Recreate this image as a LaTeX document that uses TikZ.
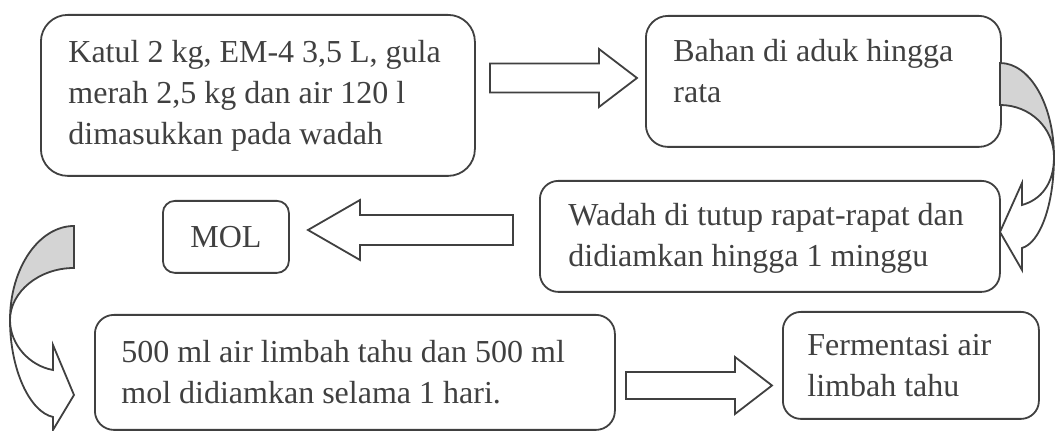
\documentclass[tikz,border=0pt]{standalone}
\usepackage{fontspec}
\setmainfont{Liberation Serif}
\definecolor{ink}{HTML}{404040}
\definecolor{shade}{HTML}{D4D4D4}
\begin{document}
\begin{tikzpicture}[x=0.5pt, y=-0.5pt,
  box/.style={draw=ink, line width=0.9pt, rounded corners=#1, inner sep=0pt, anchor=north west},
  txt/.style={anchor=base west, inner sep=0pt, align=left, text=ink, font=\fontsize{16}{20.5}\selectfont},
  blockarrow/.style={draw=ink, line width=0.9pt, fill=white, line join=miter},
  curvearrow/.style={draw=ink, line width=0.9pt, line join=miter}]
  \useasboundingbox (0,0) rectangle (1057,431);

  % boxes
  \node[box=13.4pt, minimum width=217pt, minimum height=80.5pt] (katul) at (40,14) {};
  \node[box=11pt, minimum width=177.5pt, minimum height=65.5pt] (aduk) at (645,15) {};
  \node[box=9.2pt, minimum width=230pt, minimum height=55.5pt] (tutup) at (539,180) {};
  \node[box=6pt, minimum width=63pt, minimum height=36pt, text=ink, font=\fontsize{16}{20.5}\selectfont] (mol) at (162,200) {MOL};
  \node[box=9.5pt, minimum width=260pt, minimum height=57.5pt] (limbah) at (94,314) {};
  \node[box=9pt, minimum width=128pt, minimum height=53.5pt] (ferm) at (782,311) {};

  % texts, anchored on the baseline of the last line
  \node[txt] (katul-t) at (68,145) {Katul 2 kg, EM-4 3,5 L, gula\\merah 2,5 kg dan air 120 l\\dimasukkan pada wadah};
  \node[txt] (aduk-t) at (673,103) {Bahan di aduk hingga\\rata};
  \node[txt] (tutup-t) at (568,267) {Wadah di tutup rapat-rapat dan\\didiamkan hingga 1 minggu};
  \node[txt] (limbah-t) at (121,404) {500 ml air limbah tahu dan 500 ml\\mol didiamkan selama 1 hari.};
  \node[txt] (ferm-t) at (807,397) {Fermentasi air\\limbah tahu};

  % block arrows
  \draw[blockarrow] (490,63.5) -- (599,63.5) -- (599,49) -- (637,78) -- (599,107) -- (599,92.5) -- (490,92.5) -- cycle;
  \draw[blockarrow] (513,215) -- (360,215) -- (360,200) -- (308,230) -- (360,260) -- (360,245) -- (513,245) -- cycle;
  \draw[blockarrow] (626,372) -- (735,372) -- (735,357) -- (772,385.5) -- (735,414) -- (735,399) -- (626,399) -- cycle;

  % curved arrows
  \draw[curvearrow, fill=shade] (1000,63) .. controls (1030,63) and (1054,105) .. (1054,157)
    .. controls (1054,128) and (1030,105) .. (1000,105) -- cycle;
  \draw[curvearrow, fill=white] (1054,157) .. controls (1054,205) and (1040,243) .. (1022,248)
    -- (1022,270) -- (1000,232) -- (1022,183) -- (1022,205)
    .. controls (1040,200) and (1054,185) .. (1054,157) -- cycle;
  \draw[curvearrow, fill=shade] (74,226) .. controls (39,226) and (10,268) .. (10,320)
    .. controls (10,292) and (39,268) .. (74,268) -- cycle;
  \draw[curvearrow, fill=white] (10,320) .. controls (10,370) and (30,412) .. (53,417)
    -- (53,430) -- (74,395) -- (53,345) -- (53,370)
    .. controls (30,366) and (10,345) .. (10,320) -- cycle;
\end{tikzpicture}
\end{document}
